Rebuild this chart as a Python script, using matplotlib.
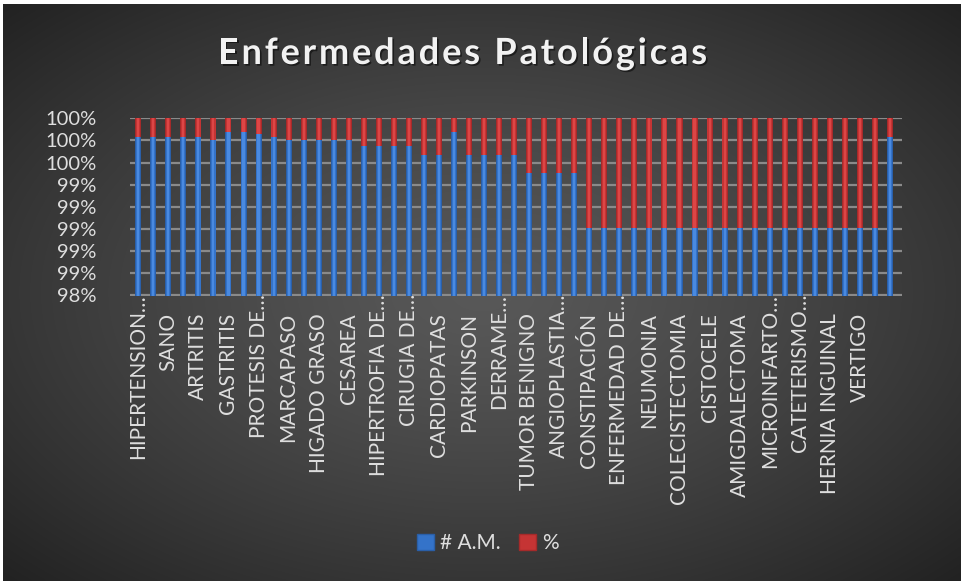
import numpy as np
import matplotlib
matplotlib.use("Agg")
import matplotlib.pyplot as plt
from matplotlib.patches import Patch
from matplotlib import transforms
import matplotlib.patheffects as pe

# ---------------- data ----------------
categories = [
    "HIPERTENSION…", "", "SANO", "", "ARTRITIS", "", "GASTRITIS", "", "PROTESIS DE…", "",
    "MARCAPASO", "", "HIGADO GRASO", "", "CESAREA", "", "HIPERTROFIA DE…", "", "CIRUGIA DE…", "",
    "CARDIOPATAS", "", "PARKINSON", "", "DERRAME…", "", "TUMOR BENIGNO", "", "ANGIOPLASTIA…", "",
    "CONSTIPACIÓN", "", "ENFERMEDAD DE…", "", "NEUMONIA", "", "COLECISTECTOMIA", "", "CISTOCELE", "",
    "AMIGDALECTOMA", "", "MICROINFARTO…", "", "CATETERISMO…", "", "HERNIA INGUINAL", "", "VERTIGO", "",
    "",
]
am_counts = [6, 6, 6, 6, 6, 5, 8, 8, 7, 6,
             5, 5, 5, 5, 5, 4, 4, 4, 4, 3,
             3, 8, 3, 3, 3, 3, 2, 2, 2, 2,
             1, 1, 1, 1, 1, 1, 1, 1, 1, 1,
             1, 1, 1, 1, 1, 1, 1, 1, 1, 1,
             6]
pct_values = [0.01, 0.01, 0.01, 0.01, 0.01, 0.01, 0.01, 0.01, 0.01, 0.01,
              0.01, 0.01, 0.01, 0.01, 0.01, 0.01, 0.01, 0.01, 0.01, 0.01,
              0.01, 0.01, 0.01, 0.01, 0.01, 0.01, 0.01, 0.01, 0.01, 0.01,
              0.01, 0.01, 0.01, 0.01, 0.01, 0.01, 0.01, 0.01, 0.01, 0.01,
              0.01, 0.01, 0.01, 0.01, 0.01, 0.01, 0.01, 0.01, 0.01, 0.01,
              0.01]
series_names = ["# A.M.", "%"]
title = "Enfermedades Patológicas"
y_ticks = [98.4, 98.6, 98.8, 99.0, 99.2, 99.4, 99.6, 99.8, 100.0]

# ---------------- derived (100% stacked) ----------------
am = np.array(am_counts, dtype=float)
pc = np.array(pct_values, dtype=float)
tot = am + pc
blue_share = am / tot * 100
red_share = pc / tot * 100
x = np.arange(len(categories))

W, H = 962, 581
FONT = "Lato"
TXT = "#dedede"

fig = plt.figure(figsize=(W / 100, H / 100), dpi=100, facecolor="white")

# background radial gradient
bg = fig.add_axes([3 / W, 0, 1 - 3 / W, 1 - 4 / H])
gx, gy = np.meshgrid(np.linspace(0, 1, 400), np.linspace(0, 1, 300))
r = np.sqrt(((gx - 0.5) / 0.5) ** 2 + ((gy - 0.5) / 0.5) ** 2) / np.sqrt(2)
t = np.clip(r, 0, 1) ** 1.3
inner = np.array([0x58, 0x58, 0x58]) / 255
outer = np.array([0x22, 0x22, 0x22]) / 255
img = inner[None, None, :] * (1 - t[..., None]) + outer[None, None, :] * t[..., None]
bg.imshow(img, extent=[0, 1, 0, 1], aspect="auto", origin="lower", interpolation="bilinear")
bg.set_axis_off()

# main axes
px_left, px_right = 130.0, 902.0
px_top, px_bot = 118.3, 295.5
ax = fig.add_axes([px_left / W, 1 - px_bot / H, (px_right - px_left) / W, (px_bot - px_top) / H])
ax.set_facecolor("none")
ax.set_xlim(-0.55, 50.8)
ax.set_ylim(98.4, 100)

bw = 0.4
layers = [(1.0, "#2a5fa8", "#a52a2a"), (0.7, "#3473c9", "#c53434"), (0.35, "#4a8ae0", "#dc4646")]
for frac, cb, cr in layers:
    ax.bar(x, blue_share, width=bw * frac, color=cb, zorder=3, linewidth=0)
    ax.bar(x, red_share, bottom=blue_share, width=bw * frac, color=cr, zorder=3, linewidth=0)

ax.set_yticks(y_ticks)
ax.set_yticklabels([f"{round(v):.0f}%" for v in y_ticks], fontfamily=FONT, fontsize=14.5, color=TXT)
ax.tick_params(axis="y", length=0, pad=24)
ax.set_xticks([])
ax.grid(axis="y", color="#8a8a8a", linewidth=1.6, zorder=1)
for s in ax.spines.values():
    s.set_visible(False)

# category labels
trans = transforms.blended_transform_factory(ax.transData, fig.transFigure)
for i, lab in enumerate(categories):
    if not lab:
        continue
    top_px = 294.0 if lab.endswith("…") else 313.0
    ax.text(i, 1 - top_px / H, lab, rotation=90, ha="center", va="top", transform=trans,
            fontfamily=FONT, fontsize=15, color=TXT)

# legend
handles = [Patch(facecolor="#3473c9", edgecolor="#2a5fa8"), Patch(facecolor="#c53434", edgecolor="#a52a2a")]
leg = fig.legend(handles, series_names, loc="center", bbox_to_anchor=(488 / W, 1 - 543 / H), ncol=2,
                 frameon=False, handlelength=0.8, handleheight=0.8, handletextpad=0.3, columnspacing=0.9,
                 prop={"family": FONT, "size": 15})
for tt in leg.get_texts():
    tt.set_color(TXT)

# letter-spaced title
renderer = fig.canvas.get_renderer()
fs = 26.0
full = fig.text(0, 0, title, fontfamily=FONT, fontweight="bold", fontsize=fs)
full_w = full.get_window_extent(renderer).width
full.remove()
target_w = 489.0
n = len(title)
spacing = (target_w - full_w) / (n - 1)
x0 = 462.5 - target_w / 2
base_y = 1 - 64 / H
for i, ch in enumerate(title):
    pw = 0.0
    if i > 0:
        pre = fig.text(0, 0, title[:i], fontfamily=FONT, fontweight="bold", fontsize=fs)
        pw = pre.get_window_extent(renderer).width
        pre.remove()
    xi = x0 + pw + i * spacing
    fig.text(xi / W, base_y, ch, fontfamily=FONT, fontweight="bold", fontsize=fs, color="#f2f2f2",
             ha="left", va="baseline",
             path_effects=[pe.withSimplePatchShadow(offset=(1.2, -1.2), shadow_rgbFace="black", alpha=0.5)])

fig.savefig("out.png", dpi=100, facecolor=fig.get_facecolor())
